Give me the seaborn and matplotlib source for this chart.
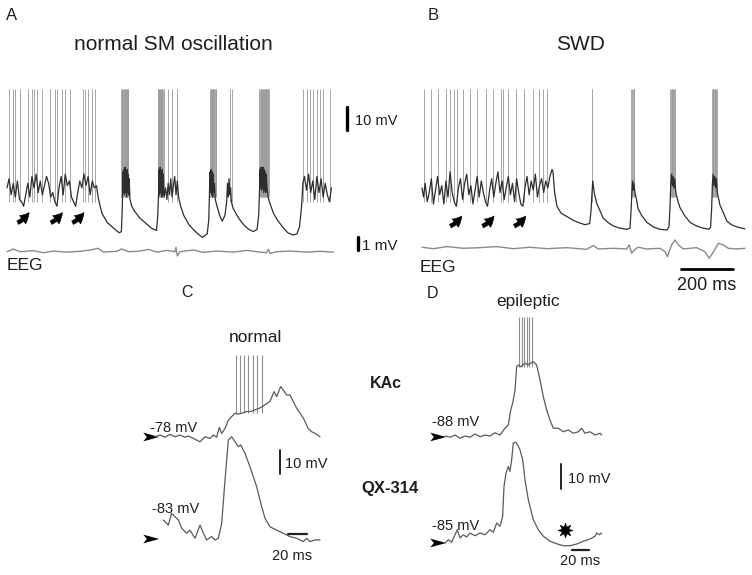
import matplotlib
matplotlib.use('Agg')
import matplotlib.pyplot as plt
from matplotlib.path import Path
from matplotlib.markers import MarkerStyle
import seaborn as sns

# ---------------- data (time in ms, membrane potential in mV) ----------------
# A: normal SM oscillation, intracellular trace
a_t = [0, 8, 16, 24, 32, 40, 48, 56, 64, 72, 80, 88, 96, 104, 112, 120, 128, 136, 144, 152, 160, 168,
       176, 184, 192, 200, 208, 216, 224, 232, 240, 248, 256, 264, 272, 280, 288, 296, 304, 312, 320,
       328, 336, 344,
       352, 365, 385, 405, 420, 432, 440,
       444, 446, 448, 450, 452, 454, 456, 458, 460, 462, 464, 466, 468, 470, 473,
       480, 490, 510, 530, 555, 575,
       580, 583, 585, 587, 589, 591, 593, 595, 597, 599, 601, 604,
       610, 615, 620, 625, 630, 635, 640, 645, 650, 655, 660,
       668, 680, 700, 720, 740, 752, 770,
       776, 779, 781, 783, 785, 787, 789, 791, 793, 795, 798, 801,
       808, 818, 828, 838,
       845, 848, 851, 854, 857, 860, 863,
       870, 890, 910, 930, 947, 962,
       968, 971, 973, 975, 977, 979, 981, 983, 985, 987, 989, 991, 993, 995, 997, 1000, 1004,
       1012, 1025, 1040, 1060, 1080, 1100, 1115, 1125,
       1133, 1138, 1144, 1152, 1160, 1168, 1176, 1184, 1192, 1200, 1208, 1216, 1224, 1232, 1240, 1248]
a_v = [-38, -34, -41, -36, -42, -35, -43, -44, -46, -41, -36, -42, -33, -38, -32, -40, -35, -41, -37,
       -33, -36, -42, -40, -44, -46, -38, -33, -41, -32, -37, -35, -42, -44, -46, -40, -35, -38, -32,
       -37, -33, -41, -35, -38, -37,
       -43, -49, -53, -55, -56.5, -57.5, -57,
       -44, -31, -40, -30, -41, -29, -40, -31, -42, -30, -40, -32, -41, -34, -43,
       -46, -48, -51, -53, -55.5, -56.5,
       -50, -40, -30, -41, -29, -40, -31, -42, -30, -41, -32, -42,
       -38, -43, -36, -41, -34, -42, -37, -33, -41, -35, -42,
       -46, -50, -54, -56.5, -58.5, -59.5, -58,
       -52, -40, -31, -40, -30, -41, -31, -42, -32, -40, -36, -43,
       -46, -50, -52.5, -50,
       -44, -36, -42, -34, -41, -38, -44,
       -47, -51, -54, -56, -57, -56,
       -50, -40, -30, -38, -29, -39, -30, -38, -29, -40, -30, -39, -31, -40, -32, -38, -42,
       -45, -49, -52, -55, -57.5, -58.5, -58, -55,
       -46, -36, -33, -39, -32, -40, -35, -43, -33, -40, -34, -42, -36, -41, -44, -38]
a_spikes = [8, 23, 31, 50, 81, 96, 104, 115, 135, 165, 185, 192, 212, 223, 242, 292, 300, 312, 327, 338,
            620, 634, 653, 858, 867, 1138, 1154, 1165, 1177, 1192, 1204, 1215, 1242]
a_bursts = [440, 442, 444, 446, 448, 450, 452, 454, 456, 458, 460, 462, 464, 466,
            580, 582, 584, 586, 588, 590, 592, 594, 596, 598, 600, 602,
            782, 784, 786, 788, 790, 792, 794, 796, 798, 800, 802, 804,
            971, 973, 975, 977, 979, 981, 983, 985, 987, 989, 991, 993, 995, 997, 999, 1001, 1003, 1005, 1007]
a_arrows = [63, 191, 274]
a_eeg_t = [1, 24, 50, 101, 140, 178, 229, 281, 319, 351, 370, 422, 441, 467, 512, 544, 576, 614, 646,
           650, 655, 665, 717, 755, 806, 870, 922, 973, 999, 1005, 1012, 1037, 1088, 1153, 1204, 1255]
a_eeg_v = [0, 0.21, 0, 0.08, -0.08, 0.05, -0.03, 0.03, 0.13, 0.26, -0.03, 0.03, 0.21, 0, 0.05, 0.18,
           -0.03, 0.1, 0, 0.33, -0.33, 0, 0.13, -0.05, 0.05, -0.03, 0.1, -0.03, -0.08, 0.18, -0.13, 0,
           0.05, -0.03, 0.03, -0.03]

# B: spike-and-wave discharge
b_t = [0, 6, 12, 20, 28, 36, 44, 52, 60, 68, 76, 84, 92, 100, 108, 116, 124, 132, 140, 148, 156, 164,
       172, 180, 188, 196, 204, 212, 220, 228, 236, 244, 252, 260, 268, 276, 284, 292, 300, 308, 316,
       324, 332, 340, 348, 356, 364, 372, 380, 388, 396, 404, 412, 420, 428, 436, 444, 452, 460, 468,
       476, 484, 492, 500,
       504, 510, 519, 535, 558, 580, 600, 627, 645,
       650, 654, 657, 660, 664, 673, 685, 696, 715, 735, 760, 788, 800,
       804, 808, 810, 812, 815, 819, 825, 831, 845, 865, 890, 915, 942, 950,
       954, 957, 960, 963, 966, 969, 972, 976, 985, 992, 1010, 1031, 1055, 1081, 1104, 1110,
       1114, 1117, 1120, 1123, 1126, 1129, 1132, 1136, 1146, 1160, 1173, 1190, 1212, 1242]
b_v = [-38, -42, -36, -44, -40, -34, -45, -39, -33, -41, -37, -45, -35, -42, -31, -40, -44, -46, -38,
       -34, -43, -36, -32, -41, -37, -45, -39, -33, -42, -35, -40, -44, -46, -39, -34, -42, -36, -31,
       -40, -35, -43, -38, -33, -41, -36, -44, -34, -40, -45, -46, -38, -33, -41, -35, -39, -32, -42,
       -37, -34, -40, -35, -38, -33, -30,
       -31, -40, -46, -49, -50.5, -52, -53, -54, -53.5,
       -48, -40, -35, -38, -41, -45, -48, -51, -53, -54.5, -55.5, -56, -55.5,
       -48, -38, -35, -39, -36, -40, -43, -47, -50, -53, -55, -56, -56.3, -55,
       -46, -36, -32, -37, -33, -38, -34, -40, -44, -46.5, -50, -53, -54.5, -55.5, -56, -55,
       -47, -36, -32, -37, -33, -38, -34, -40, -45.5, -49, -52.5, -54, -55, -55.8]
b_spikes = [8, 35, 62, 92, 108, 123, 135, 158, 185, 212, 246, 273, 304, 312, 331, 362, 392, 427, 450,
            465, 481, 652, 655]
b_bursts = [805, 808, 811, 814, 817,
            955, 957.5, 960, 962, 964.5, 967, 969, 971.5, 974,
            1116, 1118.5, 1121, 1123, 1125.5, 1128, 1130, 1132.5, 1135]
b_arrows = [131, 255, 377]
b_eeg_t = [0, 44, 95, 159, 223, 287, 351, 415, 480, 556, 633, 659, 678, 736, 787, 797, 806, 819, 832,
           864, 915, 935, 944, 960, 973, 986, 1005, 1056, 1088, 1105, 1121, 1140, 1159, 1178, 1210, 1242]
b_eeg_v = [0.08, -0.03, 0.13, 0, 0.05, 0.13, -0.03, 0.08, -0.03, 0.05, -0.08, 0.21, -0.05, 0, -0.05,
           0.26, -0.38, -0.08, 0.08, -0.05, 0, -0.26, -0.64, 0.26, 0.64, 0.26, -0.05, 0.05, -0.26,
           -0.77, -0.26, 0.38, 0.26, 0, -0.05, 0]

# C: normal, KAc (top) and QX-314 (bottom)
c_top_t = [0, 5.3, 10.5, 15.8, 21, 26.3, 31.6, 35, 40.4, 47.4, 52.6, 57.9, 61.4, 64.9, 67.7, 70.2,
           73.7, 77.2, 80.7, 84.2, 87, 91.5, 96, 100.5, 105, 110, 115.8, 121, 125.3, 128, 132.3, 135,
           138.6, 142.1, 149.1, 156.1, 161.4, 164.9, 168.4, 173.7]
c_top_v = [-77.9, -77.2, -78.1, -76.9, -77.9, -77.2, -78.1, -77.6, -78.6, -80, -77.9, -78.6, -77.2,
           -78.1, -74, -76.5, -74.5, -71, -69.5, -68.1, -68.5, -68.1, -67.4, -67.4, -66.7, -66, -64.6,
           -63.2, -59.1, -61.2, -57, -58.4, -60.5, -60.5, -66, -70.1, -74.5, -75.8, -76.5, -77.9]
c_spikes = [85.3, 89.5, 94, 98.2, 102.8, 107.7, 112.3]
c_bot_t = [8.8, 14, 17.5, 21, 24.6, 28.1, 33.3, 36.8, 42.1, 47.4, 50.9, 54.4, 59.6, 63.2, 66.7, 70.2,
           73.7, 77.2, 80.7, 84.2, 87.7, 90.2, 94.7, 100, 107, 112.3, 115.8, 121, 128, 135, 142.1,
           149.1, 156.1, 159.6, 163.2, 168.4, 173.7]
c_bot_v = [-75.1, -77.2, -72.3, -73.7, -75.1, -78.5, -80.6, -79.3, -82.7, -77.2, -80.6, -83.4, -82,
           -83.4, -82.7, -76.5, -58.4, -41.8, -40.4, -42.5, -44.5, -43.8, -47.3, -52.9, -61.2, -69.5,
           -74.4, -77.9, -79.3, -80.6, -82, -82.7, -84.1, -82.7, -84.1, -83.4, -83.4]

# D: epileptic, KAc (top) and QX-314 (bottom)
d_top_t = [0, 5.9, 11.8, 17.6, 23.5, 29.4, 35.3, 41.2, 47.1, 52.9, 58.8, 64.7, 70.6, 74.5, 77.3, 79.6,
           82.4, 84.3, 86.3, 88.8, 91.5, 94.5, 97.6, 100.6, 103.9, 107.8, 111.8, 115.7, 119.6, 123.5,
           127.5, 133.3, 139.2, 145.1, 151, 156.9, 160.8, 164.7, 170.6, 176.5, 182.4, 184.3]
d_top_v = [-87.6, -88.1, -87.2, -88.5, -87.6, -88.1, -86.8, -87.9, -87.2, -87.6, -86.3, -87.2, -84.5,
           -83.2, -77.2, -74.5, -69.2, -59.9, -59.2, -59.9, -59.2, -58.5, -59.2, -58.5, -57.9, -59.2,
           -65.2, -71.9, -77.2, -81.2, -84.5, -84.5, -85.9, -85.2, -86.5, -85.9, -84.5, -86.5, -85.9,
           -87.2, -86.5, -87.2]
d_spikes = [87.5, 90.2, 92.9, 96.1, 99.2, 102]
d_bot_t = [0, 3.9, 7.8, 11.8, 14.5, 17.6, 21.6, 25.5, 29.4, 35.3, 41.2, 47.1, 52.9, 56.9, 60.8, 64.7,
           67.8, 69.4, 71.8, 74.5, 76.5, 78.4, 80.4, 83.5, 86.3, 88.2, 91.4, 94.1, 98, 103.9, 109.8,
           115.7, 123.5, 131.4, 139.2, 147.1, 154.9, 162.7, 170.6, 176.5, 178.4, 181.6, 184.3]
d_bot_v = [-85, -83.7, -84.7, -81.7, -79.7, -83, -81.7, -82.6, -81, -82.1, -81, -81.7, -79.7, -80.7,
           -77, -78.3, -74.4, -62.4, -57, -54.4, -56.3, -51.7, -45, -44.7, -46.3, -47.7, -51.7, -59.7,
           -67.7, -75.7, -79.7, -82.3, -84.3, -85.3, -86.1, -86.1, -85.4, -84.3, -83.4, -82.3, -81,
           -81.7, -81]
d_star = (141, -79.8)

# ---------------- figure ----------------
sns.set_style('white')
plt.rcParams['font.family'] = ['Liberation Sans', 'DejaVu Sans']

W, H = 752, 575
fig = plt.figure(figsize=(W / 100, H / 100), dpi=100)
limits = []


def trace_axes(box, px_t0, px_ms, py_ref, v_ref, px_mv):
    # box in pixels (left, right, top, bottom); px_ms / px_mv = pixels per ms / per mV
    x0, x1, y0, y1 = box
    ax = fig.add_axes([x0 / W, 1 - y1 / H, (x1 - x0) / W, (y1 - y0) / H])
    limits.append((ax, ((x0 - px_t0) / px_ms, (x1 - px_t0) / px_ms),
                   (v_ref - (y1 - py_ref) / px_mv, v_ref + (py_ref - y0) / px_mv)))
    ax.axis('off')
    return ax


def trace(ax, t, v, color='#2e2e2e', lw=0.9):
    sns.lineplot(x=t, y=v, ax=ax, color=color, lw=lw, sort=False, estimator=None)


def label(x, y, s, **kw):
    kw.setdefault('color', '#1e1e1e')
    fig.text(x / W, 1 - y / H, s, **kw)


arrowhead = MarkerStyle(Path([(-1, -0.55), (1, 0), (-1, 0.55), (-0.55, 0), (-1, -0.55)],
                             [Path.MOVETO, Path.LINETO, Path.LINETO, Path.LINETO, Path.CLOSEPOLY]))
arrow_kw = dict(arrowstyle='simple,head_width=0.75,head_length=0.7,tail_width=0.28',
                fc='k', ec='k', lw=0.4, shrinkA=0, shrinkB=0,
                connectionstyle='arc3,rad=0.15')

# panel A
ax_a = trace_axes((0, 380, 80, 250), 7, 0.26, 89, 5, 2.3)
ax_a.vlines(a_spikes, -44, 5, colors='#a6a6a6', lw=0.7)
ax_a.vlines(a_bursts, -42, 5, colors='#9c9c9c', lw=0.6)
trace(ax_a, a_t, a_v)
for t in a_arrows:
    ax_a.annotate('', xy=(t + 22, -48.7), xytext=(t - 22, -53.1), arrowprops=arrow_kw)
ax_a.plot([1308, 1308], [-2.8, -12.8], color='k', lw=2.4)

ax_ae = trace_axes((0, 380, 230, 262), 7, 0.26, 251.7, 0, 13)
trace(ax_ae, a_eeg_t, a_eeg_v, color='#8a8a8a', lw=1.0)
ax_ae.plot([1350, 1350], [1.13, 0.13], color='k', lw=2.4)

# panel B
ax_b = trace_axes((400, 752, 80, 250), 422, 0.26, 89, 5, 2.3)
ax_b.vlines(b_spikes, -44, 5, colors='#a6a6a6', lw=0.7)
ax_b.vlines(b_bursts, -42, 5, colors='#9c9c9c', lw=0.6)
trace(ax_b, b_t, b_v)
for t in b_arrows:
    ax_b.annotate('', xy=(t + 22, -50.2), xytext=(t - 22, -54.6), arrowprops=arrow_kw)

ax_be = trace_axes((400, 752, 230, 275), 422, 0.26, 248.3, 0, 13)
trace(ax_be, b_eeg_t, b_eeg_v, color='#8a8a8a', lw=1.0)
ax_be.plot([996, 1196], [-1.59, -1.59], color='k', lw=2.0)

# panel C
ax_ct = trace_axes((130, 350, 340, 460), 155, 0.95, 437, -78, 2.4)
ax_ct.vlines(c_spikes, -68, -44, colors='#8e8e8e', lw=0.8)
trace(ax_ct, c_top_t, c_top_v, color='#5a5a5a', lw=0.9)
sns.scatterplot(x=[-4], y=[-78], ax=ax_ct, marker=arrowhead, s=130, color='k', edgecolor='none')

ax_cb = trace_axes((130, 350, 425, 570), 155, 0.95, 539, -83, 2.4)
trace(ax_cb, c_bot_t, c_bot_v, color='#5a5a5a', lw=0.9)
sns.scatterplot(x=[-4], y=[-83], ax=ax_cb, marker=arrowhead, s=130, color='k', edgecolor='none')
ax_cb.plot([131.6, 131.6], [-45.9, -55.9], color='#222222', lw=1.4)
ax_cb.plot([140, 160], [-80.9, -80.9], color='#222222', lw=1.6)

# panel D
ax_dt = trace_axes((420, 640, 305, 460), 445, 0.85, 437, -88, 2.5)
ax_dt.vlines(d_spikes, -60, -40, colors='#8e8e8e', lw=0.8)
trace(ax_dt, d_top_t, d_top_v, color='#5a5a5a', lw=0.9)
sns.scatterplot(x=[-8], y=[-88], ax=ax_dt, marker=arrowhead, s=130, color='k', edgecolor='none')

ax_db = trace_axes((420, 640, 420, 570), 445, 0.85, 543, -85, 2.5)
trace(ax_db, d_bot_t, d_bot_v, color='#5a5a5a', lw=0.9)
sns.scatterplot(x=[-8], y=[-85], ax=ax_db, marker=arrowhead, s=130, color='k', edgecolor='none')
sns.scatterplot(x=[d_star[0]], y=[d_star[1]], ax=ax_db, marker=(8, 1, 0), s=120, color='k',
                edgecolor='k', linewidth=0.3)
ax_db.plot([136.5, 136.5], [-53.4, -63.4], color='#222222', lw=1.4)
ax_db.plot([149.4, 169.4], [-87.8, -87.8], color='#222222', lw=1.6)

for ax, xl, yl in limits:
    ax.set_xlim(*xl)
    ax.set_ylim(*yl)

# text
label(11.5, 20, 'A', fontsize=12, ha='center', va='baseline')
label(433, 20, 'B', fontsize=12, ha='center', va='baseline')
label(173.5, 50, 'normal SM oscillation', fontsize=15, ha='center', va='baseline')
label(580, 50, 'SWD', fontsize=15, ha='center', va='baseline')
label(355, 125, '10 mV', fontsize=10.5, ha='left', va='baseline')
label(362, 250, '1 mV', fontsize=11, ha='left', va='baseline')
label(7, 270, 'EEG', fontsize=12.5, ha='left', va='baseline')
label(420, 272, 'EEG', fontsize=12.5, ha='left', va='baseline')
label(707, 290, '200 ms', fontsize=13, ha='center', va='baseline')
label(187.5, 297, 'C', fontsize=11.5, ha='center', va='baseline')
label(432.5, 298, 'D', fontsize=11.5, ha='center', va='baseline')
label(255, 342, 'normal', fontsize=12.5, ha='center', va='baseline')
label(528, 306, 'epileptic', fontsize=12.5, ha='center', va='baseline')
label(386, 388, 'KAc', fontsize=11.5, fontweight='bold', ha='center', va='baseline')
label(390, 493, 'QX-314', fontsize=12, fontweight='bold', ha='center', va='baseline')
label(150, 432, '-78 mV', fontsize=10.5, ha='left', va='baseline')
label(152, 513, '-83 mV', fontsize=10.5, ha='left', va='baseline')
label(432, 426, '-88 mV', fontsize=10.5, ha='left', va='baseline')
label(432, 530, '-85 mV', fontsize=10.5, ha='left', va='baseline')
label(285, 468, '10 mV', fontsize=10.5, ha='left', va='baseline')
label(568, 483, '10 mV', fontsize=10.5, ha='left', va='baseline')
label(292, 560, '20 ms', fontsize=10.5, ha='center', va='baseline')
label(580, 565, '20 ms', fontsize=10.5, ha='center', va='baseline')

fig.savefig('out.png', dpi=100)
